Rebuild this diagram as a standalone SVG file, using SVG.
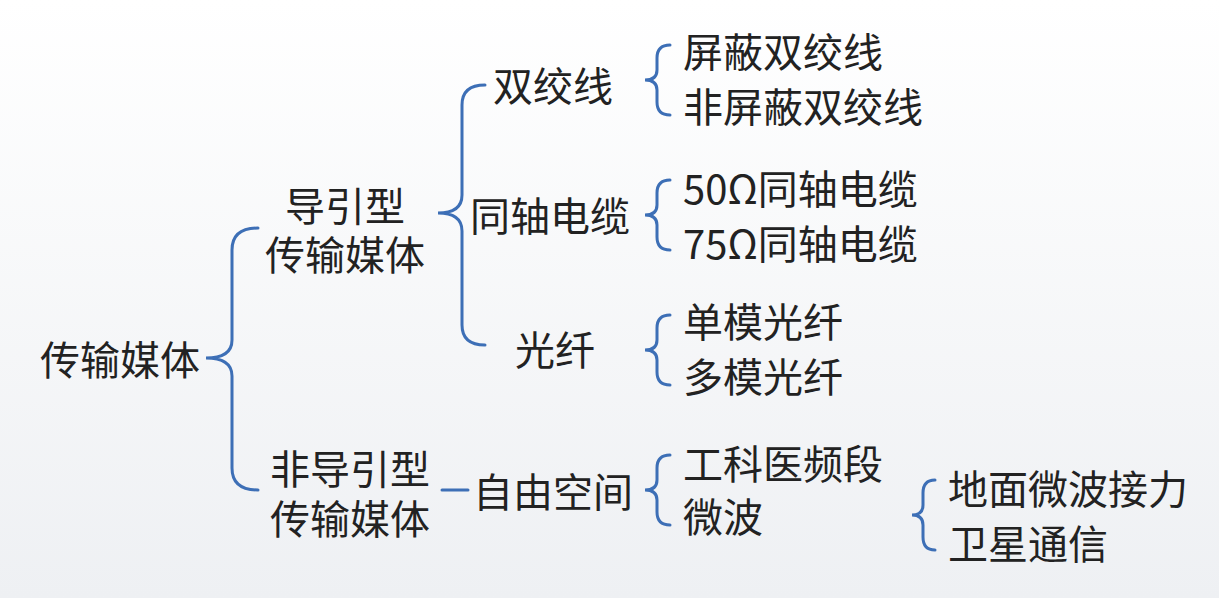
<svg xmlns="http://www.w3.org/2000/svg" width="1219" height="598" viewBox="0 0 1219 598">
<defs>
<linearGradient id="bg" x1="0" y1="0" x2="0" y2="1"><stop offset="0" stop-color="#ffffff"/><stop offset="1" stop-color="#eef0f3"/></linearGradient>
<style>
text{font-family:"Noto Sans CJK SC","Liberation Sans",sans-serif;font-size:40px;fill:#222;dominant-baseline:central}
.b{fill:none;stroke:#3d6fb6;stroke-width:3;stroke-linecap:round}
</style>
</defs>
<rect width="1219" height="598" fill="url(#bg)"/>
<g id="connectors">
<path class="b" d="M258 228 Q232 228 232 250 L232 340 Q232 358 206 358 Q232 358 232 376 L232 468 Q232 490 258 490"/>
<path class="b" d="M485 85 Q462 85 462 105 L462 195 Q462 213 438 213 Q462 213 462 231 L462 325 Q462 345 485 345"/>
<path class="b" d="M670 45 Q657 45 657 58 L657 70 Q657 80 645 80 Q657 80 657 90 L657 102 Q657 115 670 115"/>
<path class="b" d="M670 180 Q657 180 657 193 L657 205 Q657 215 645 215 Q657 215 657 225 L657 237 Q657 250 670 250"/>
<path class="b" d="M670 315 Q657 315 657 328 L657 340 Q657 350 645 350 Q657 350 657 360 L657 372 Q657 385 670 385"/>
<path class="b" d="M670 455 Q657 455 657 468 L657 480 Q657 490 645 490 Q657 490 657 500 L657 512 Q657 525 670 525"/>
<path class="b" d="M935 480 Q923 480 923 493 L923 505 Q923 515 912 515 Q923 515 923 525 L923 537 Q923 550 935 550"/>
<line class="b" x1="442" y1="490" x2="468" y2="490"/>
</g>
<g id="root"><text x="40" y="358">传输媒体</text></g>
<g id="guided"><text x="345" y="204" text-anchor="middle">导引型</text><text x="345" y="253" text-anchor="middle">传输媒体</text></g>
<g id="unguided"><text x="350" y="467" text-anchor="middle">非导引型</text><text x="350" y="517" text-anchor="middle">传输媒体</text></g>
<g id="twisted"><text x="553" y="84" text-anchor="middle">双绞线</text></g>
<g id="coax"><text x="550" y="214" text-anchor="middle">同轴电缆</text></g>
<g id="fiber"><text x="555" y="348" text-anchor="middle">光纤</text></g>
<g id="free"><text x="473" y="490">自由空间</text></g>
<g id="tp"><text x="683" y="50">屏蔽双绞线</text><text x="683" y="105">非屏蔽双绞线</text></g>
<g id="cx"><text x="683" y="187">50Ω同轴电缆</text><text x="683" y="242">75Ω同轴电缆</text></g>
<g id="fb"><text x="683" y="320">单模光纤</text><text x="683" y="375">多模光纤</text></g>
<g id="fs"><text x="683" y="462">工科医频段</text><text x="683" y="515">微波</text></g>
<g id="mw"><text x="948" y="487">地面微波接力</text><text x="948" y="542">卫星通信</text></g>
</svg>
